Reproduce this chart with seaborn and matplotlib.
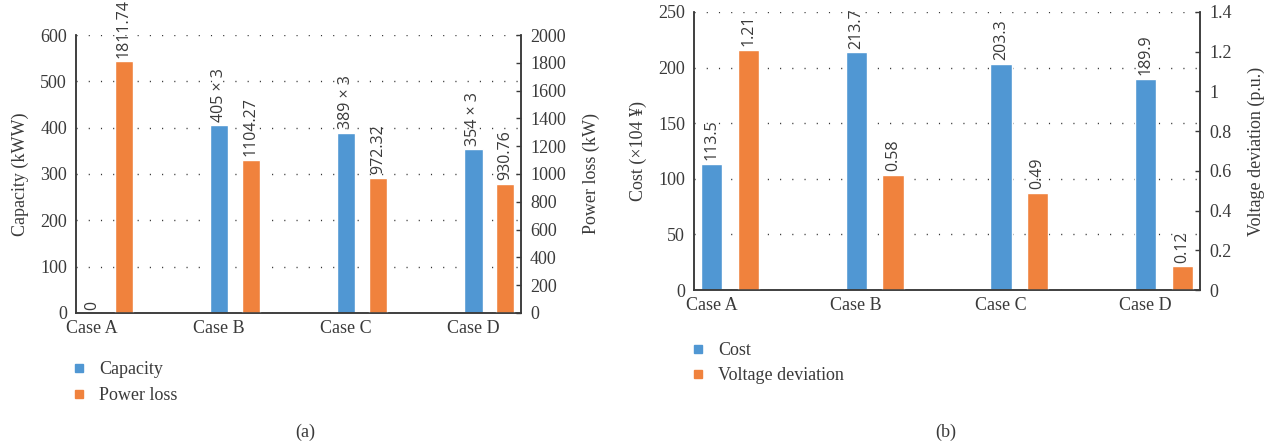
import numpy as np
import pandas as pd
import seaborn as sns
import matplotlib.pyplot as plt
from matplotlib.lines import Line2D
from matplotlib.ticker import FuncFormatter

cases = ["Case A", "Case B", "Case C", "Case D"]

# panel (a)
capacity = [0, 405, 389, 354]
capacity_labels = ["0", "405 × 3", "389 × 3", "354 × 3"]
power_loss = [1811.74, 1104.27, 972.32, 930.76]
power_loss_labels = ["1811.74", "1104.27", "972.32", "930.76"]

# panel (b)
cost = [113.5, 213.7, 203.3, 189.9]
cost_labels = ["113.5", "213.7", "203.3", "189.9"]
voltage_dev = [1.21, 0.58, 0.49, 0.12]
voltage_labels = ["1.21", "0.58", "0.49", "0.12"]

BLUE = "#5097D3"
ORANGE = "#F0823D"
DARK = "#3a3a3a"
SERIF = ["Liberation Serif", "DejaVu Serif"]
SANS = ["Open Sans", "DejaVu Sans"]
FS = 13

sns.set_style("white")
plt.rcParams["font.family"] = SERIF
plt.rcParams["text.color"] = DARK
plt.rcParams["axes.labelcolor"] = DARK
plt.rcParams["xtick.color"] = DARK
plt.rcParams["ytick.color"] = DARK


def long_frame(names, first, second):
    return pd.DataFrame({
        "Case": cases * 2,
        "Series": [names[0]] * len(cases) + [names[1]] * len(cases),
        "Value": list(first) + list(second),
    })


def real_bars(axis):
    # seaborn may leave an empty container for the unused hue level
    for c in axis.containers:
        if len(c) and all(p is not None for p in c):
            return c


def dual_panel(fig, rect, names, first, second, first_labels, second_labels,
               left_lim, left_step, right_lim, right_step, ylabels, width):
    df = long_frame(names, first, second)
    pal = {names[0]: BLUE, names[1]: ORANGE}
    ax = fig.add_axes(rect)
    ax2 = ax.twinx()
    for axis, name in ((ax, names[0]), (ax2, names[1])):
        sns.barplot(data=df[df.Series == name], x="Case", y="Value",
                    hue="Series", hue_order=names, palette=pal,
                    dodge=True, width=width, gap=0.42, errorbar=None,
                    legend=False, ax=axis, saturation=1)
    ax.bar_label(real_bars(ax), labels=first_labels, rotation=90,
                 padding=2.5, fontsize=11.5, family=SANS, color=DARK)
    ax2.bar_label(real_bars(ax2), labels=second_labels, rotation=90,
                  padding=2.5, fontsize=11.5, family=SANS, color=DARK)

    ax.set_ylim(0, left_lim)
    ax.set_yticks(np.arange(0, left_lim + 1e-9, left_step))
    ax2.set_ylim(0, right_lim)
    ax2.set_yticks(np.arange(0, right_lim + 1e-9, right_step))
    ax2.yaxis.set_major_formatter(FuncFormatter(lambda v, p: f"{v:g}"))

    ax.set_xlim(-0.25, 3.25)
    ax.set_xticks(np.arange(len(cases)) - width / 4, labels=cases)
    ax.set_xlabel("")
    ax2.set_xlabel("")
    ax.set_ylabel(ylabels[0], fontsize=FS, labelpad=8)
    ax2.set_ylabel(ylabels[1], fontsize=FS, labelpad=12)

    ax.tick_params(axis="y", length=0, pad=6.5, labelsize=FS)
    ax.tick_params(axis="x", length=0, pad=5, labelsize=FS)
    ax2.tick_params(axis="y", direction="in", length=3.5, width=1,
                    pad=6.5, labelsize=FS, color=DARK)

    ax.set_axisbelow(True)
    ax.yaxis.grid(True, linestyle=(0, (0.8, 8)), linewidth=1, color="#333333")
    ax.xaxis.grid(False)
    for a in (ax, ax2):
        a.spines["top"].set_visible(False)
        for s in ("left", "right", "bottom"):
            a.spines[s].set_color(DARK)
            a.spines[s].set_linewidth(1.1)
    return ax, ax2


fig = plt.figure(figsize=(12.76, 4.47), dpi=100)

dual_panel(fig, [0.0596, 0.2998, 0.3487, 0.6219], ["Capacity", "Power loss"],
           capacity, power_loss, capacity_labels, power_loss_labels,
           600, 100, 2000, 200, ["Capacity (kWW)", "Power loss (kW)"], 0.5)
dual_panel(fig, [0.5439, 0.3512, 0.3965, 0.6220], ["Cost", "Voltage deviation"],
           cost, voltage_dev, cost_labels, voltage_labels,
           250, 50, 1.4, 0.2, ["Cost (×104 ¥)", "Voltage deviation (p.u.)"], 0.51)


def square(color):
    return Line2D([], [], linestyle="none", marker="s", markersize=6,
                  markerfacecolor=color, markeredgecolor=color)


fig.legend([square(BLUE), square(ORANGE)], ["Capacity", "Power loss"],
           loc="center left", bbox_to_anchor=(73.8 / 1276, 1 - 382.5 / 447),
           frameon=False, fontsize=FS, handlelength=0.6, handletextpad=0.8,
           labelspacing=0.5, borderpad=0, borderaxespad=0)
fig.legend([square(BLUE), square(ORANGE)], ["Cost", "Voltage deviation"],
           loc="center left", bbox_to_anchor=(692.8 / 1276, 1 - 363 / 447),
           frameon=False, fontsize=FS, handlelength=0.6, handletextpad=0.8,
           labelspacing=0.45, borderpad=0, borderaxespad=0)

fig.text(305 / 1276, 1 - 432 / 447, "(a)", ha="center", va="center", fontsize=FS)
fig.text(946 / 1276, 1 - 432 / 447, "(b)", ha="center", va="center", fontsize=FS)

fig.savefig("out.png", dpi=100)
